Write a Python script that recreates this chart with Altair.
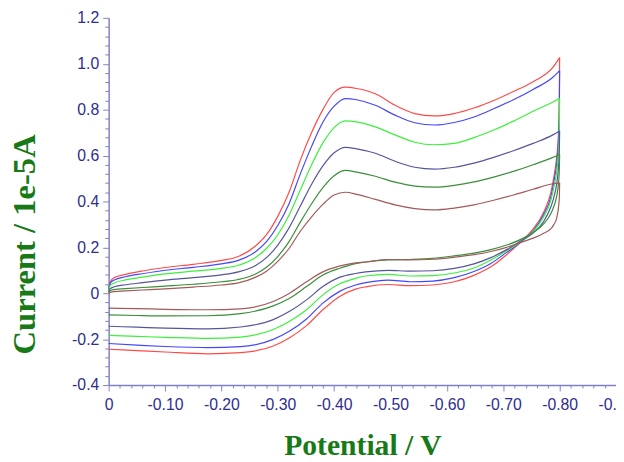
import altair as alt
import pandas as pd

# Potentials (|V|) of forward (cathodic) and reverse sweeps
E_FWD = [0.0, 0.003, 0.01, 0.03, 0.06, 0.1, 0.15, 0.2, 0.23, 0.26, 0.28, 0.30, 0.32, 0.34, 0.36,
         0.38, 0.40, 0.42, 0.44, 0.473, 0.508, 0.543, 0.578, 0.613, 0.648, 0.683, 0.718, 0.753, 0.788, 0.80]
E_REV = [0.80, 0.7995, 0.798, 0.795, 0.79, 0.785, 0.771, 0.753, 0.734, 0.706, 0.678, 0.648, 0.613, 0.575,
         0.535, 0.496, 0.456, 0.438, 0.409, 0.38, 0.351, 0.321, 0.292, 0.234, 0.176, 0.1, 0.05, 0.0]

NAMES = ["c1", "c2", "c3", "c4", "c5", "c6"]
COLORS = ["#ff4a4a", "#4646ff", "#3cf03c", "#55559d", "#3a8f3a", "#a45a5a"]

FWD_C1 = [0.02, 0.05, 0.068, 0.082, 0.097, 0.112, 0.126, 0.143, 0.16, 0.205, 0.255, 0.335, 0.44, 0.58, 0.70,
          0.80, 0.875, 0.898, 0.892, 0.869, 0.819, 0.783, 0.773, 0.783, 0.807, 0.84, 0.879, 0.922, 0.984, 1.027]
FWD_C2 = [0.015, 0.045, 0.058, 0.072, 0.085, 0.1, 0.113, 0.128, 0.143, 0.18, 0.225, 0.295, 0.39, 0.52, 0.64,
          0.745, 0.815, 0.848, 0.843, 0.819, 0.776, 0.743, 0.733, 0.744, 0.768, 0.804, 0.843, 0.888, 0.941, 0.97]
FWD_C3 = [0.01, 0.035, 0.045, 0.058, 0.07, 0.084, 0.096, 0.108, 0.122, 0.155, 0.195, 0.255, 0.34, 0.45, 0.56,
          0.655, 0.722, 0.751, 0.747, 0.725, 0.69, 0.658, 0.647, 0.653, 0.678, 0.711, 0.75, 0.793, 0.833, 0.85]
FWD_C4 = [0.005, 0.02, 0.028, 0.037, 0.046, 0.057, 0.068, 0.08, 0.093, 0.12, 0.155, 0.21, 0.285, 0.38, 0.475,
          0.555, 0.612, 0.636, 0.629, 0.61, 0.575, 0.549, 0.541, 0.549, 0.567, 0.592, 0.621, 0.653, 0.69, 0.707]
FWD_C5 = [0.003, 0.012, 0.016, 0.02, 0.025, 0.031, 0.039, 0.05, 0.06, 0.083, 0.113, 0.16, 0.225, 0.31, 0.39,
          0.46, 0.512, 0.535, 0.528, 0.51, 0.484, 0.467, 0.462, 0.47, 0.485, 0.506, 0.531, 0.56, 0.592, 0.606]
FWD_C6 = [0.0, 0.004, 0.007, 0.01, 0.014, 0.019, 0.027, 0.036, 0.045, 0.069, 0.096, 0.139, 0.195, 0.27, 0.333,
          0.387, 0.428, 0.44, 0.431, 0.409, 0.385, 0.369, 0.363, 0.371, 0.385, 0.405, 0.428, 0.453, 0.477, 0.481]

REV_C1 = [1.027, 0.85, 0.70, 0.60, 0.51, 0.445, 0.35, 0.28, 0.23, 0.168, 0.115, 0.078, 0.05, 0.036,
          0.033, 0.038, 0.028, 0.018, -0.015, -0.072, -0.141, -0.194, -0.23, -0.259, -0.264, -0.256, -0.25, -0.244]
REV_C2 = [0.97, 0.80, 0.67, 0.57, 0.49, 0.425, 0.34, 0.272, 0.228, 0.178, 0.13, 0.095, 0.068, 0.053,
          0.05, 0.057, 0.046, 0.036, 0.007, -0.043, -0.112, -0.165, -0.201, -0.233, -0.237, -0.232, -0.226, -0.219]
REV_C3 = [0.85, 0.72, 0.62, 0.535, 0.465, 0.41, 0.33, 0.268, 0.23, 0.185, 0.145, 0.11, 0.088, 0.077,
          0.075, 0.082, 0.075, 0.065, 0.04, -0.007, -0.072, -0.122, -0.158, -0.191, -0.197, -0.192, -0.188, -0.184]
REV_C4 = [0.707, 0.62, 0.55, 0.48, 0.42, 0.38, 0.31, 0.262, 0.232, 0.19, 0.155, 0.128, 0.108, 0.098,
          0.096, 0.1, 0.093, 0.086, 0.069, 0.029, -0.029, -0.079, -0.115, -0.147, -0.155, -0.152, -0.148, -0.144]
REV_C5 = [0.606, 0.54, 0.48, 0.425, 0.38, 0.35, 0.3, 0.265, 0.238, 0.21, 0.19, 0.175, 0.163, 0.152,
          0.147, 0.145, 0.136, 0.129, 0.108, 0.079, 0.029, -0.022, -0.055, -0.089, -0.098, -0.099, -0.097, -0.094]
REV_C6 = [0.481, 0.42, 0.375, 0.33, 0.3, 0.283, 0.26, 0.24, 0.224, 0.2, 0.182, 0.168, 0.157, 0.148,
          0.145, 0.147, 0.136, 0.132, 0.118, 0.093, 0.05, 0.0, -0.036, -0.068, -0.072, -0.07, -0.067, -0.065]

FWD = [FWD_C1, FWD_C2, FWD_C3, FWD_C4, FWD_C5, FWD_C6]
REV = [REV_C1, REV_C2, REV_C3, REV_C4, REV_C5, REV_C6]

X_TICKS = [round(-0.02 * i, 2) for i in range(46)]
Y_TICKS = [round(-0.4 + 0.04 * i, 2) for i in range(41)]

rows = []
for name, fwd, rev in zip(NAMES, FWD, REV):
    for e, i in zip(E_FWD, fwd):
        rows.append({"E": -e, "I": i, "trace": name, "key": name + "_f"})
    for e, i in zip(E_REV, rev):
        rows.append({"E": -e, "I": i, "trace": name, "key": name + "_r"})
df = pd.DataFrame(rows)

AXIS_COL = "#8080c8"
LABEL_COL = "#2e2e8e"
TITLE_COL = "#177a17"

x_axis = alt.Axis(
    values=X_TICKS,
    labelExpr="abs(datum.value*10 - round(datum.value*10)) < 0.001 ? (abs(datum.value) < 0.001 ? '0' : '-' + format(abs(datum.value), '.2f')) : ''",
    tickSize={"condition": {"test": "abs(datum.value*10 - round(datum.value*10)) < 0.001", "value": 6}, "value": 3},
    labelPadding=6, labelFont="Liberation Sans", labelFontSize=16, labelColor=LABEL_COL,
    domainColor=AXIS_COL, tickColor=AXIS_COL, domainWidth=1.5, tickWidth=1,
    grid=False, labelOverlap=False, labelFlush=False,
    title="Potential / V", titleFont="Liberation Serif", titleFontSize=30, titleFontWeight="bold",
    titleColor=TITLE_COL, titleY=70, titleBaseline="alphabetic",
)
y_axis = alt.Axis(
    values=Y_TICKS,
    labelExpr="abs(datum.value*5 - round(datum.value*5)) < 0.001 ? (abs(datum.value) < 0.001 ? '0' : (datum.value < 0 ? '-' + format(-datum.value, '.1f') : format(datum.value, '.1f'))) : ''",
    tickSize={"condition": {"test": "abs(datum.value*5 - round(datum.value*5)) < 0.001", "value": 6}, "value": 4},
    labelPadding=4, labelFont="Liberation Sans", labelFontSize=16, labelColor=LABEL_COL,
    domainColor=AXIS_COL, tickColor=AXIS_COL, domainWidth=1.5, tickWidth=1,
    grid=False, labelOverlap=False, labelFlush=False,
    title="Current / 1e-5A", titleFont="Liberation Serif", titleFontSize=33, titleFontWeight="bold",
    titleColor=TITLE_COL, titleX=-85, titleY=229, titleBaseline="middle", titleAlign="center", titleAngle=270,
)

chart = alt.Chart(df).mark_line(interpolate="monotone", strokeWidth=1.2).encode(
    x=alt.X("E:Q", scale=alt.Scale(domain=[-0.9, 0], reverse=True, nice=False, zero=False), axis=x_axis),
    y=alt.Y("I:Q", scale=alt.Scale(domain=[-0.4, 1.2], nice=False, zero=False), axis=y_axis),
    color=alt.Color("trace:N", scale=alt.Scale(domain=NAMES, range=COLORS), legend=None),
    detail="key:N",
).properties(
    width=514, height=372,
    autosize=alt.AutoSizeParams(type="none"),
    padding={"left": 102, "top": 7, "right": 0, "bottom": 75},
).configure_view(strokeWidth=0)

chart.save("out.html", embed_options={"renderer": "svg", "actions": False})
